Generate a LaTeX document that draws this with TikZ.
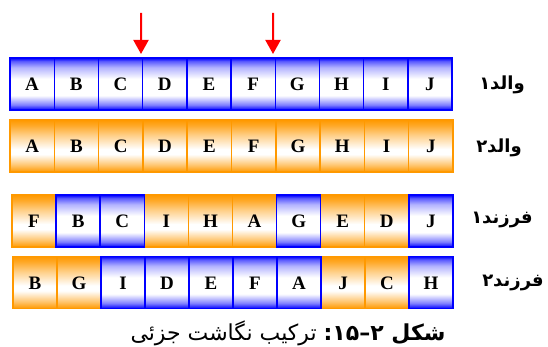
\documentclass[tikz,border=0pt]{standalone}
\usepackage{fontspec}
\setmainfont{Liberation Serif}
\newfontfamily\arabicfont[Script=Arabic]{DejaVu Sans}
\TeXXeTstate=1
\usetikzlibrary{arrows.meta}

\definecolor{geneblue}{RGB}{0,0,255}
\definecolor{geneorange}{RGB}{255,153,0}

% gene cells: saturated rim at top and bottom, white band below the middle
\pgfdeclareverticalshading{blueshade}{100bp}{color(0bp)=(geneblue); color(25bp)=(geneblue); color(30bp)=(geneblue!50); color(39bp)=(white); color(55bp)=(white); color(66bp)=(geneblue!30); color(72bp)=(geneblue!65); color(75bp)=(geneblue); color(100bp)=(geneblue)}
\pgfdeclareverticalshading{orangeshade}{100bp}{color(0bp)=(geneorange); color(25bp)=(geneorange); color(32bp)=(geneorange!55); color(42bp)=(white); color(47bp)=(white); color(60bp)=(geneorange!45); color(70bp)=(geneorange!85); color(75bp)=(geneorange); color(100bp)=(geneorange)}

\tikzset{
  cell/.style={minimum width=44.2pt, minimum height=52pt, inner sep=0pt, outer sep=0pt,
    line width=1.4pt, font=\fontsize{19}{19}\selectfont\bfseries, text height=13pt, text depth=0pt},
  b cell/.style={cell, draw=geneblue, shade, shading=blueshade},
  o cell/.style={cell, draw=geneorange, shade, shading=orangeshade},
  blue edge/.style={draw=geneblue, line width=1.4pt},
  rowname/.style={font=\arabicfont\fontsize{18}{18}\selectfont\bfseries, inner sep=0pt},
  caption/.style={font=\arabicfont\fontsize{22}{22}\selectfont, inner sep=0pt},
  cut/.style={draw=red, line width=2pt, -{Triangle[width=15pt,length=14pt]}}
}

\begin{document}
\begin{tikzpicture}[x=1pt, y=-1pt]
\useasboundingbox (0,0) rectangle (548,347);

% parent 1
\foreach \t [count=\i] in {A,B,C,D,E,F,G,H,I,J}
  \node[b cell] (r1c\i) at ({10+(\i-0.5)*44.2}, 84) {\t};
% parent 2
\foreach \t [count=\i] in {A,B,C,D,E,F,G,H,I,J}
  \node[o cell] (r2c\i) at ({10+(\i-0.5)*44.3}, 146) {\t};
% child 1
\foreach \t/\c [count=\i] in {F/o,B/b,C/b,I/o,H/o,A/o,G/b,E/o,D/o,J/b}
  \node[\c\space cell] (r3c\i) at ({12+(\i-0.5)*44.1}, 221) {\t};
% child 2
\foreach \t/\c [count=\i] in {B/o,G/o,I/b,D/b,E/b,F/b,A/b,J/o,C/o,H/b}
  \node[\c\space cell] (r4c\i) at ({13+(\i-0.5)*44.0}, 282.5) {\t};

% blue borders lie on top of orange neighbours
\foreach \i in {2,3,7,10}
  \draw[blue edge] (r3c\i.north west) rectangle (r3c\i.south east);
\foreach \i in {3,4,5,6,7,10}
  \draw[blue edge] (r4c\i.north west) rectangle (r4c\i.south east);

% crossover cut points
\coordinate (c1) at (141,13);
\coordinate (c2) at (273,13);
\draw[cut] (c1) -- ([xshift=-1.6pt,yshift=4pt]r1c3.north east);
\draw[cut] (c2) -- ([xshift=-2.2pt,yshift=4pt]r1c6.north east);

% row names
\node[rowname] (n1) at (502,85) {\beginR والد۱\endR};
\node[rowname] (n2) at (499,148) {\beginR والد۲\endR};
\node[rowname] (n3) at (502,220) {\beginR فرزند۱\endR};
\node[rowname] (n4) at (513,283) {\beginR فرزند۲\endR};

% caption
\node[caption] (cap) at (288,333) {\beginR{\bfseries شکل \hbox{۲}\hbox{–}\hbox{۱۵}\hbox{:}} ترکیب نگاشت جزئی\endR};
\end{tikzpicture}
\end{document}
